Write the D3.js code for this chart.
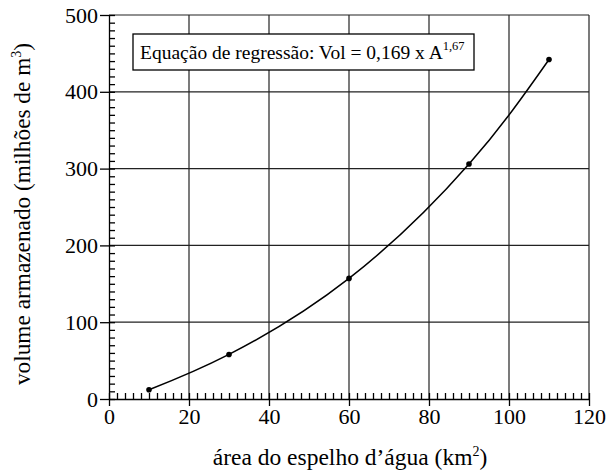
<!DOCTYPE html>
<html>
<head>
<meta charset="utf-8">
<script src="https://cdn.jsdelivr.net/npm/d3@7"></script>
<style>
  body { margin: 0; background: #fff; }
  svg text { font-family: "Liberation Serif", "Times New Roman", serif !important; fill: #000; }
</style>
</head>
<body>
<svg id="chart" width="609" height="474"></svg>
<script>
// data
var areas = [10, 30, 60, 90, 110];
var volumes = [12, 58, 157, 306, 442];
var xTicks = [0, 20, 40, 60, 80, 100, 120];
var yTicks = [0, 100, 200, 300, 400, 500];

var svg = d3.select("#chart"),
    margin = {top: 15, right: 20, bottom: 75, left: 109},
    width = +svg.attr("width") - margin.left - margin.right,
    height = +svg.attr("height") - margin.top - margin.bottom;

var x = d3.scaleLinear().domain([0, 120]).range([0, width]),
    y = d3.scaleLinear().domain([0, 500]).range([height, 0]);

var g = svg.append("g")
  .attr("transform", "translate(" + margin.left + "," + margin.top + ")");

// grid
g.selectAll(".vgrid")
  .data(xTicks.slice(1))
  .enter().append("line")
    .attr("x1", function(d) { return x(d); })
    .attr("x2", function(d) { return x(d); })
    .attr("y1", 0).attr("y2", height)
    .attr("stroke", "#222").attr("stroke-width", 1.2);

g.selectAll(".hgrid")
  .data(yTicks.slice(1))
  .enter().append("line")
    .attr("y1", function(d) { return y(d); })
    .attr("y2", function(d) { return y(d); })
    .attr("x1", 0).attr("x2", width)
    .attr("stroke", "#222").attr("stroke-width", 1.2);

// minor ticks, inside the plot
g.append("g")
  .attr("transform", "translate(0," + height + ")")
  .call(d3.axisTop(x).tickValues(d3.range(0, 121, 2)).tickSize(6).tickFormat(""))
  .call(function(a) { a.select(".domain").remove(); });

g.append("g")
  .call(d3.axisRight(y).tickValues(d3.range(0, 501, 10)).tickSize(6).tickFormat(""))
  .call(function(a) { a.select(".domain").remove(); });

// main axes
g.append("g")
  .attr("transform", "translate(0," + height + ")")
  .attr("font-family", "Liberation Serif").attr("font-size", 22)
  .call(d3.axisBottom(x).tickValues(xTicks).tickSize(7).tickPadding(2).tickSizeOuter(0));

g.append("g")
  .attr("font-family", "Liberation Serif").attr("font-size", 22)
  .call(d3.axisLeft(y).tickValues(yTicks).tickSize(9).tickPadding(2).tickSizeOuter(0));

svg.selectAll(".tick text").attr("font-family", "Liberation Serif").attr("font-size", 22);
svg.selectAll(".domain, .tick line").attr("stroke", "#000").attr("stroke-width", 1.3);

// curve through the points
var line = d3.line()
  .x(function(d, i) { return x(areas[i]); })
  .y(function(d) { return y(d); })
  .curve(d3.curveNatural);

g.append("path")
  .datum(volumes)
  .attr("d", line)
  .attr("fill", "none")
  .attr("stroke", "#000")
  .attr("stroke-width", 1.5);

g.selectAll(".dot")
  .data(volumes)
  .enter().append("circle")
    .attr("cx", function(d, i) { return x(areas[i]); })
    .attr("cy", function(d) { return y(d); })
    .attr("r", 2.8)
    .attr("fill", "#000");

// legend box
var leg = g.append("g").attr("transform", "translate(24,19)");
leg.append("rect")
  .attr("width", 341).attr("height", 36)
  .attr("fill", "#fff").attr("stroke", "#000").attr("stroke-width", 1.3);
var lt = leg.append("text")
  .attr("x", 7).attr("y", 25)
  .style("font-size", "19.5px");
lt.append("tspan").text("Equação de regressão: Vol = 0,169 x A");
lt.append("tspan").attr("dy", -9).style("font-size", "12.5px").text("1,67");

// axis titles
var xt = svg.append("text")
  .attr("x", 350)
  .attr("y", 465)
  .attr("text-anchor", "middle")
  .style("font-size", "23.5px");
xt.append("tspan").text("área do espelho d’água (km");
xt.append("tspan").attr("dy", -9).style("font-size", "14px").text("2");
xt.append("tspan").attr("dy", 9).text(")");

var yt = svg.append("text")
  .attr("transform", "translate(30,214) rotate(-90)")
  .attr("text-anchor", "middle")
  .style("font-size", "23.3px");
yt.append("tspan").text("volume armazenado (milhões de m");
yt.append("tspan").attr("dy", -9).style("font-size", "14px").text("3");
yt.append("tspan").attr("dy", 9).text(")");
</script>
</body>
</html>
